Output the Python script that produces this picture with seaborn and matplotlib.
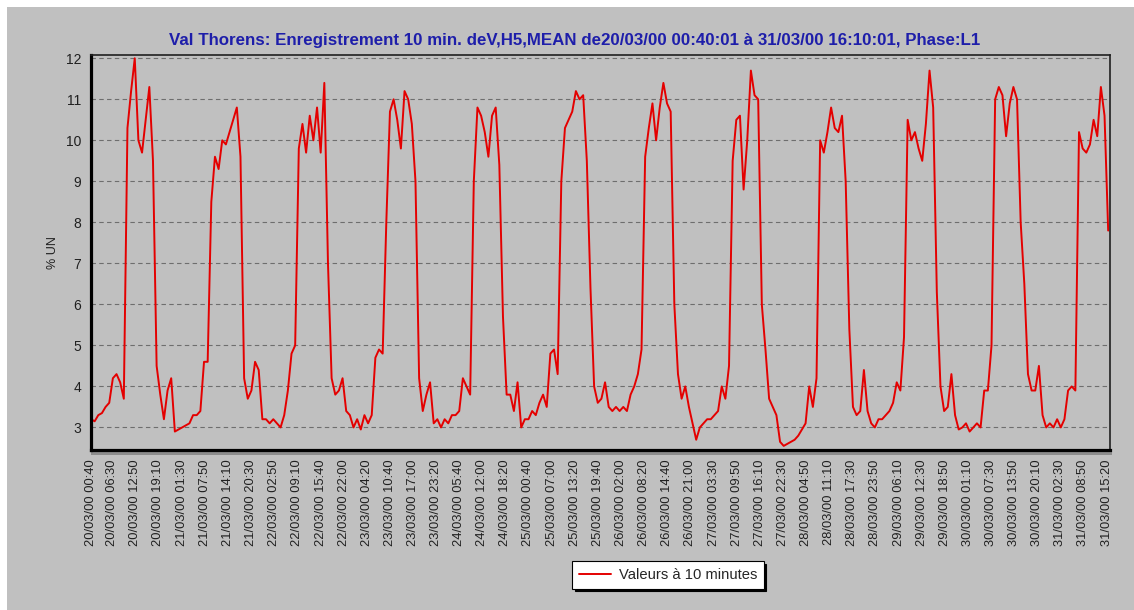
import matplotlib
matplotlib.use("Agg")
import matplotlib.pyplot as plt
from matplotlib.patches import Rectangle
import numpy as np
import pandas as pd
import seaborn as sns

# Recording window
start = "2000-03-20 00:40"
end = "2000-03-31 16:10"

# Hourly readings of the H5 harmonic level (% UN), one list per day
day_20 = [3.2, 3.15, 3.3, 3.35, 3.5, 3.6, 4.2, 4.3, 4.1, 3.7, 10.3, 11.2,
          12.0, 10.0, 9.7, 10.5, 11.3, 9.5, 4.5, 3.8, 3.2, 3.9, 4.2, 2.9]
day_21 = [2.95, 3.0, 3.05, 3.1, 3.3, 3.3, 3.4, 4.6, 4.6, 8.5, 9.6, 9.3,
          10.0, 9.9, 10.2, 10.5, 10.8, 9.6, 4.2, 3.7, 3.9, 4.6, 4.4, 3.2]
day_22 = [3.2, 3.1, 3.2, 3.1, 3.0, 3.3, 3.9, 4.8, 5.0, 9.8, 10.4, 9.7,
          10.6, 10.0, 10.8, 9.7, 11.4, 7.0, 4.2, 3.8, 3.9, 4.2, 3.4, 3.3]
day_23 = [3.0, 3.2, 2.95, 3.3, 3.1, 3.3, 4.7, 4.9, 4.8, 8.0, 10.7, 11.0,
          10.5, 9.8, 11.2, 11.0, 10.4, 9.0, 4.2, 3.4, 3.8, 4.1, 3.1, 3.2]
day_24 = [3.0, 3.2, 3.1, 3.3, 3.3, 3.4, 4.2, 4.0, 3.8, 9.0, 10.8, 10.6,
          10.2, 9.6, 10.6, 10.8, 9.4, 5.7, 3.8, 3.8, 3.4, 4.1, 3.0, 3.2]
day_25 = [3.2, 3.4, 3.3, 3.6, 3.8, 3.5, 4.8, 4.9, 4.3, 9.0, 10.3, 10.5,
          10.7, 11.2, 11.0, 11.1, 9.5, 6.4, 4.0, 3.6, 3.7, 4.1, 3.5, 3.4]
day_26 = [3.5, 3.4, 3.5, 3.4, 3.8, 4.0, 4.3, 4.9, 9.6, 10.3, 10.9, 10.0,
          10.8, 11.4, 10.9, 10.7, 6.0, 4.3, 3.7, 4.0, 3.5, 3.1, 2.7, 3.0]
day_27 = [3.1, 3.2, 3.2, 3.3, 3.4, 4.0, 3.7, 4.5, 9.5, 10.5, 10.6, 8.8,
          10.0, 11.7, 11.1, 11.0, 6.0, 4.9, 3.7, 3.5, 3.3, 2.65, 2.55, 2.6]
day_28 = [2.65, 2.7, 2.8, 2.95, 3.1, 4.0, 3.5, 4.2, 10.0, 9.7, 10.2, 10.8,
          10.3, 10.2, 10.6, 9.0, 5.4, 3.5, 3.3, 3.4, 4.4, 3.4, 3.1, 3.0]
day_29 = [3.2, 3.2, 3.3, 3.4, 3.6, 4.1, 3.9, 5.2, 10.5, 10.0, 10.2, 9.8,
          9.5, 10.4, 11.7, 10.8, 6.3, 4.0, 3.4, 3.5, 4.3, 3.3, 2.95, 3.0]
day_30 = [3.1, 2.9, 3.0, 3.1, 3.0, 3.9, 3.9, 5.0, 11.0, 11.3, 11.1, 10.1,
          10.9, 11.3, 11.0, 8.0, 6.5, 4.3, 3.9, 3.9, 4.5, 3.3, 3.0, 3.1]
day_31 = [3.0, 3.2, 3.0, 3.2, 3.9, 4.0, 3.9, 10.2, 9.8, 9.7, 9.9, 10.5,
          10.1, 11.3, 10.6, 7.8]

# Time-axis labels
tick_times = [
    "2000-03-20 00:40", "2000-03-20 06:30", "2000-03-20 12:50", "2000-03-20 19:10",
    "2000-03-21 01:30", "2000-03-21 07:50", "2000-03-21 14:10", "2000-03-21 20:30",
    "2000-03-22 02:50", "2000-03-22 09:10", "2000-03-22 15:40", "2000-03-22 22:00",
    "2000-03-23 04:20", "2000-03-23 10:40", "2000-03-23 17:00", "2000-03-23 23:20",
    "2000-03-24 05:40", "2000-03-24 12:00", "2000-03-24 18:20",
    "2000-03-25 00:40", "2000-03-25 07:00", "2000-03-25 13:20", "2000-03-25 19:40",
    "2000-03-26 02:00", "2000-03-26 08:20", "2000-03-26 14:40", "2000-03-26 21:00",
    "2000-03-27 03:30", "2000-03-27 09:50", "2000-03-27 16:10", "2000-03-27 22:30",
    "2000-03-28 04:50", "2000-03-28 11:10", "2000-03-28 17:30", "2000-03-28 23:50",
    "2000-03-29 06:10", "2000-03-29 12:30", "2000-03-29 18:50",
    "2000-03-30 01:10", "2000-03-30 07:30", "2000-03-30 13:50", "2000-03-30 20:10",
    "2000-03-31 02:30", "2000-03-31 08:50", "2000-03-31 15:20",
]
y_ticks = [3, 4, 5, 6, 7, 8, 9, 10, 11, 12]

title = ("Val Thorens: Enregistrement 10 min. deV,H5,MEAN de20/03/00 00:40:01 "
         "à 31/03/00 16:10:01, Phase:L1")
series_label = "Valeurs à 10 minutes"

values = (day_20 + day_21 + day_22 + day_23 + day_24 + day_25 + day_26 +
          day_27 + day_28 + day_29 + day_30 + day_31)
times = pd.date_range(start, periods=len(values), freq="h")
df = pd.DataFrame({"time": times, "h5": values})

sns.set_style("white")
plt.rcParams["font.family"] = ["Liberation Sans", "DejaVu Sans"]

W, H = 1134, 610
BG = "#c0c0c0"
fig = plt.figure(figsize=(W / 100, H / 100), dpi=100)
fig.patch.set_facecolor("white")
fig.patches.append(Rectangle((7 / W, 0), 1 - 7 / W, 1 - 7 / H,
                             transform=fig.transFigure, facecolor=BG,
                             edgecolor="none", zorder=-10))

L, R, T, B = 91, 1110, 55, 450
ax = fig.add_axes([L / W, 1 - B / H, (R - L) / W, (B - T) / H])
ax.set_facecolor(BG)

sns.lineplot(data=df, x="time", y="h5", ax=ax, color="#e40000",
             linewidth=1.4, label=series_label)

ax.set_xlim(pd.Timestamp(start), pd.Timestamp(end))
ax.set_ylim(2.45, 12.08)

# dashed horizontal grid
ax.set_yticks(y_ticks)
ax.yaxis.grid(True, linestyle=(0, (4, 3)), color="#6e6e6e", linewidth=0.8)
ax.xaxis.grid(False)
ax.set_axisbelow(True)

tick_ts = pd.to_datetime(tick_times)
ax.set_xticks(tick_ts)
ax.set_xticklabels([t.strftime("%d/%m/%y %H:%M") for t in tick_ts],
                   rotation=90, fontsize=9.3, color="#202020")
ax.tick_params(axis="x", length=0, pad=7)
ax.tick_params(axis="y", length=4, width=0.8, color="#6e6e6e",
               labelsize=10, labelcolor="#202020", pad=3)

ax.set_xlabel("")
ax.set_ylabel("% UN", fontsize=9, color="#202020", labelpad=5)

for side in ("left", "bottom"):
    ax.spines[side].set_linewidth(2.3)
    ax.spines[side].set_color("black")
for side in ("top", "right"):
    ax.spines[side].set_linewidth(1.2)
    ax.spines[side].set_color("#202020")
    ax.spines[side].set_visible(True)

# drop shadow under the frame
fig.patches.append(Rectangle((L / W, 1 - 455 / H), (R + 2 - L) / W, 4 / H,
                             transform=fig.transFigure, facecolor="#8c8c8c",
                             edgecolor="none", zorder=-5))

fig.text(575 / W, 1 - 40 / H, title, ha="center", va="center",
         fontsize=12.2, fontweight="bold", color="#1e1eaa")

leg = ax.legend(loc="center", bbox_to_anchor=(668 / W, 1 - 575 / H),
                bbox_transform=fig.transFigure, fontsize=10.6, frameon=True,
                fancybox=False, shadow={"color": "black", "alpha": 1},
                handlelength=2.2, borderpad=0.45, handletextpad=0.5,
                borderaxespad=0)
leg.get_frame().set_edgecolor("black")
leg.get_frame().set_facecolor("white")
leg.get_frame().set_linewidth(0.8)

fig.savefig("out.png", dpi=100, facecolor=fig.get_facecolor())
